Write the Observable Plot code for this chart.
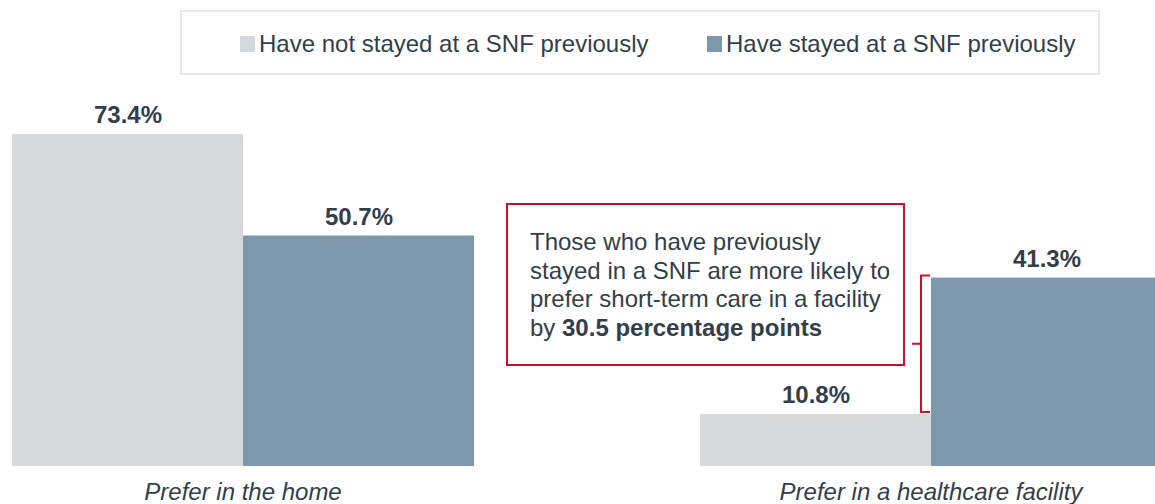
<!DOCTYPE html>
<html>
<head>
<meta charset="utf-8">
<script src="https://cdn.jsdelivr.net/npm/d3@7"></script>
<script src="https://cdn.jsdelivr.net/npm/@observablehq/plot@0.6"></script>
<style>
  html, body { margin: 0; padding: 0; background: #ffffff; }
  #wrap { position: relative; width: 1155px; height: 504px; overflow: hidden;
          font-family: "Liberation Sans", Arial, Helvetica, sans-serif; color: #333e48; }
  #chart { position: absolute; left: 0; top: 0; }
  #legend { position: absolute; left: 180px; top: 10px; width: 920px; height: 65px;
            box-sizing: border-box; border: 2px solid #e8e8e8; }
  .item { position: absolute; top: 19.7px; font-size: 24px; line-height: 24px; white-space: nowrap; }
  .swatch { display: inline-block; width: 15px; height: 16px; margin-right: 4px; vertical-align: baseline; }
  #note { position: absolute; left: 506px; top: 203px; width: 399px; height: 163px; box-sizing: border-box;
          border: 2px solid #c8102e; padding: 23px 0 0 22px; font-size: 24px; line-height: 28.7px; color: #333e48; background: #fff; }
  #note b { font-weight: bold; }
</style>
</head>
<body>
<div id="wrap">
  <div id="chart"></div>
  <div id="legend"></div>
  <div id="note"></div>
</div>
<script>
// ---- data ----
const categories = ["Prefer in the home", "Prefer in a healthcare facility"];
const series = ["Have not stayed at a SNF previously", "Have stayed at a SNF previously"];
const notStayed = [73.4, 10.8];
const stayed = [50.7, 41.3];
const colors = ["#d5d9db", "#7d98ad"];

// ---- table built from arrays ----
const rows = [];
categories.forEach((c, i) => {
  rows.push({cat: c, series: series[0], value: notStayed[i]});
  rows.push({cat: c, series: series[1], value: stayed[i]});
});
const bracketData = [{cat: categories[1], series: series[1], lo: notStayed[1], hi: stayed[1]}];
const gap = (stayed[1] - notStayed[1]).toFixed(1);

const textColor = "#333e48";
const red = "#c8102e";
const fmt = d3.format(".1f");

const plot = Plot.plot({
  width: 1155,
  height: 504,
  marginLeft: 11,
  marginRight: -7,
  marginTop: 15,
  marginBottom: 41.7,
  style: {fontFamily: '"Liberation Sans", Arial, Helvetica, sans-serif', color: textColor, background: "transparent", overflow: "visible"},
  fx: {domain: categories, paddingInner: 0.3275, paddingOuter: 0, axis: null, label: null},
  x: {domain: series, padding: 0, axis: null, label: null},
  y: {domain: [0, 100], axis: null, label: null},
  color: {domain: series, range: colors},
  marks: [
    Plot.barY(rows, {fx: "cat", x: "series", y: "value", fill: "series", insetLeft: 0, insetRight: 0, insetTop: 0, insetBottom: -3.7}),
    Plot.text(rows, {fx: "cat", x: "series", y: "value", text: d => fmt(d.value) + "%",
      lineAnchor: "bottom", dy: -11, fontSize: 24, fontWeight: "bold", fill: textColor}),
    Plot.text(categories, {fx: d => d, text: d => d, frameAnchor: "bottom", lineAnchor: "bottom",
      dy: 36.7, fontSize: 24, fontStyle: "italic", fill: textColor}),
    Plot.dot(bracketData, {fx: "cat", x: "series", y: "hi", render: (index, scales) => {
      const g = d3.create("svg:g");
      for (const i of index) {
        const d = bracketData[i];
        const xBar = scales.x(d.series);
        const xv = xBar - 10;
        const yLo = scales.y(d.lo) - 2, yHi = scales.y(d.hi) - 2;
        g.append("path")
          .attr("fill", "none").attr("stroke", red).attr("stroke-width", 2)
          .attr("d", `M${xBar - 1},${yHi}H${xv}V${yLo}H${xBar - 1}M${xv},${(yLo + yHi) / 2}H${xv - 9}`);
      }
      return g.node();
    }})
  ]
});
document.getElementById("chart").appendChild(plot);

// ---- legend (HTML, from the series arrays) ----
const legend = d3.select("#legend");
const itemLefts = [58, 525];
series.forEach((s, i) => {
  const it = legend.append("div").attr("class", "item").style("left", itemLefts[i] + "px");
  it.append("span").attr("class", "swatch").style("background", colors[i]);
  it.append("span").text(s);
});

// ---- annotation ----
document.getElementById("note").innerHTML =
  "Those who have previously<br>stayed in a SNF are more likely to<br>prefer short-term care in a facility<br>by <b>" +
  gap + " percentage points</b>";
</script>
</body>
</html>
